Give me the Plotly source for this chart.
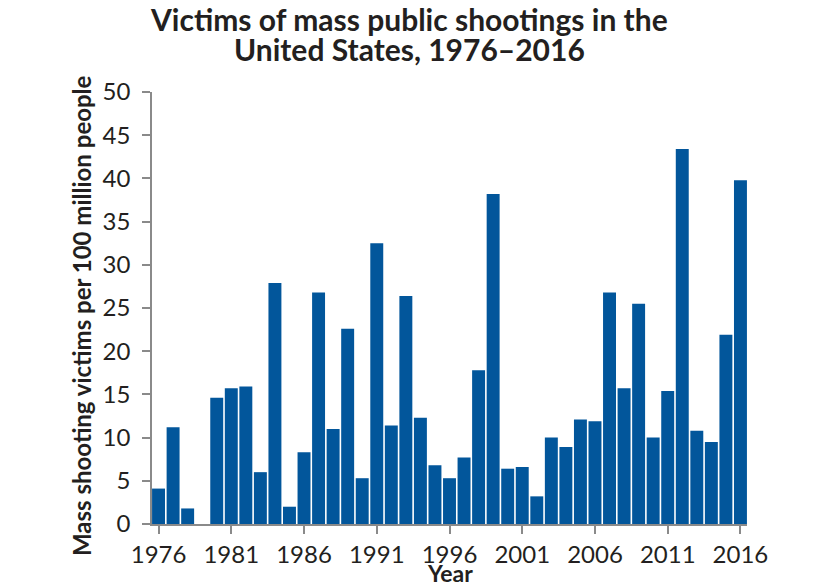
import plotly.graph_objects as go

years = list(range(1976, 2017))
victims = [
    4.1, 11.2, 1.8, 0.0, 14.6, 15.7, 15.9, 6.0, 27.9, 2.0,
    8.3, 26.8, 11.0, 22.6, 5.3, 32.5, 11.4, 26.4, 12.3, 6.8,
    5.3, 7.7, 17.8, 38.2, 6.4, 6.6, 3.2, 10.0, 8.9, 12.1,
    11.9, 26.8, 15.7, 25.5, 10.0, 15.4, 43.4, 10.8, 9.5, 21.9,
    39.8,
]
tick_years = [1976, 1981, 1986, 1991, 1996, 2001, 2006, 2011, 2016]
title_lines = ["Victims of mass public shootings in the", "United States, 1976–2016"]

ink = "#231f20"
axis_grey = "#8a8a8a"

# page body has an 8px margin, so the figure is drawn 8px smaller
fig = go.Figure(
    go.Bar(
        x=years,
        y=victims,
        marker=dict(color="#02569b", line=dict(width=0)),
    )
)
fig.update_layout(
    width=832,
    height=579,
    margin=dict(l=144, r=93, t=84, b=63, autoexpand=False),
    paper_bgcolor="white",
    plot_bgcolor="rgba(0,0,0,0)",
    bargap=0.11,
    showlegend=False,
    font=dict(family="Lato", color=ink, size=24),
)

# two title lines, placed separately to keep their tight spacing
for text, ypos in zip(title_lines, [1.1700, 1.0995]):
    fig.add_annotation(
        text=f"<b>{text}</b>", xref="paper", yref="paper",
        x=0.432, y=ypos, xanchor="center", yanchor="middle",
        showarrow=False, font=dict(size=30, color=ink),
    )
fig.add_annotation(
    text="<b>Mass shooting victims per 100 million people</b>",
    xref="paper", yref="paper", x=-0.1176, y=0.4815,
    xanchor="center", yanchor="middle", textangle=-90,
    showarrow=False, font=dict(size=24, color=ink),
)
fig.add_annotation(
    text="<b>Year</b>", xref="paper", yref="paper", x=0.5, y=-0.1135,
    xanchor="center", yanchor="middle",
    showarrow=False, font=dict(size=23, color=ink),
)

fig.update_xaxes(
    range=[1975.55, 2016.45],
    tickvals=tick_years,
    ticks="outside",
    ticklen=8,
    tickcolor=axis_grey,
    tickwidth=1.5,
    showline=True,
    linecolor=axis_grey,
    linewidth=1.5,
    showgrid=False,
    zeroline=False,
)
fig.update_yaxes(
    range=[0, 50],
    dtick=5,
    ticks="outside",
    ticklen=8,
    tickcolor=axis_grey,
    tickwidth=1.5,
    ticklabelstandoff=7,
    showline=True,
    linecolor=axis_grey,
    linewidth=1.5,
    showgrid=False,
    zeroline=False,
)

fig.write_html("out.html")
